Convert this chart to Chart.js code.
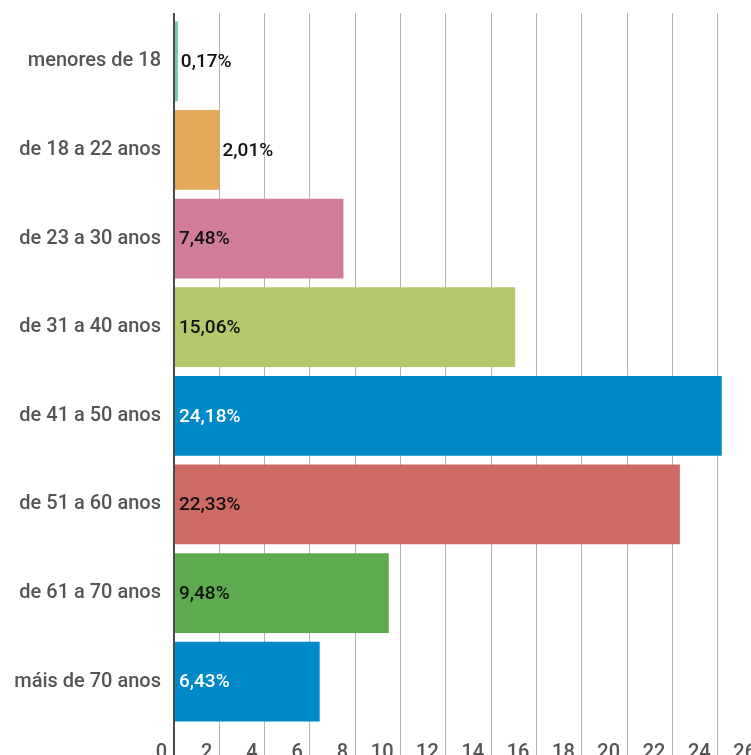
<!DOCTYPE html>
<html lang="pt-BR">
<head>
<meta charset="utf-8">
<title>Faixa etária</title>
<script src="https://cdn.jsdelivr.net/npm/chart.js@4/dist/chart.umd.min.js"></script>
<style>
    html, body { margin: 0; padding: 0; background: #fff; overflow: hidden; }
    #grafico-idade { display: block; }
</style>
</head>
<body>
<canvas id="grafico-idade" width="763" height="780" style="width:763px;height:780px"></canvas>
<script>
// Dados do gráfico
const faixas = ['menores de 18', 'de 18 a 22 anos', 'de 23 a 30 anos', 'de 31 a 40 anos',
    'de 41 a 50 anos', 'de 51 a 60 anos', 'de 61 a 70 anos', 'máis de 70 anos'];
const percentuais = [0.17, 2.01, 7.48, 15.06, 24.18, 22.33, 9.48, 6.43];
const rotulos = ['0,17%', '2,01%', '7,48%', '15,06%', '24,18%', '22,33%', '9,48%', '6,43%'];
const cores = ['#72c6b8', '#e2a95a', '#d17d99', '#b3c96b', '#0089c9', '#cd6a63', '#5dab4e', '#0089c9'];
const coresTexto = ['#111', '#111', '#111', '#111', '#fff', '#111', '#111', '#fff'];

const corGrade = ctx => (ctx.tick && ctx.tick.value === 0) ? '#4a4a4a' : '#b3b3b3';
const larguraGrade = ctx => (ctx.tick && ctx.tick.value === 0) ? 2 : 1;

// Rótulos de valor nas barras
const rotulosBarras = {
    id: 'rotulosBarras',
    afterDatasetsDraw(chart) {
        const ctx = chart.ctx;
        const meta = chart.getDatasetMeta(0);
        ctx.save();
        ctx.font = '500 19px Roboto';
        ctx.textBaseline = 'middle';
        ctx.textAlign = 'left';
        meta.data.forEach((bar, i) => {
            const txt = rotulos[i];
            const w = ctx.measureText(txt).width;
            if (w + 8 < bar.x - bar.base) {
                ctx.fillStyle = coresTexto[i];
                ctx.fillText(txt, bar.base + 4, bar.y + 1);
            } else {
                ctx.fillStyle = '#111';
                ctx.fillText(txt, bar.x + 3, bar.y + 1);
            }
        });
        ctx.restore();
    }
};

new Chart(document.getElementById('grafico-idade').getContext('2d'), {
    type: 'bar',
    data: {
        labels: faixas,
        datasets: [{
            data: percentuais,
            backgroundColor: cores,
            borderWidth: 0,
            categoryPercentage: 1,
            barPercentage: 0.9
        }]
    },
    options: {
        indexAxis: 'y',
        responsive: false,
        animation: false,
        layout: { padding: { top: 8, right: 0, left: 0, bottom: 0 } },
        plugins: { legend: { display: false }, tooltip: { enabled: false } },
        scales: {
            x: {
                position: 'bottom',
                min: 0, max: 26,
                ticks: {
                    stepSize: 2,
                    align: 'end',
                    labelOffset: -7,
                    padding: -30,
                    color: '#555',
                    font: { family: 'Roboto', size: 20, weight: '500' }
                },
                grid: { color: corGrade, lineWidth: larguraGrade, drawTicks: true, tickLength: 45 },
                border: { display: false },
                afterFit: s => { s.height = 54; }
            },
            xTopo: {
                type: 'linear',
                axis: 'x',
                position: 'top',
                min: 0, max: 26,
                ticks: { stepSize: 2, display: false },
                grid: { color: corGrade, lineWidth: larguraGrade, drawOnChartArea: false, drawTicks: true, tickLength: 4 },
                border: { display: false },
                afterFit: s => { s.height = 4; }
            },
            y: {
                ticks: {
                    color: '#555',
                    padding: 5,
                    font: { family: 'Roboto', size: 20, weight: '500' }
                },
                grid: { display: false },
                border: { display: false },
                afterFit: s => { s.width = 174; }
            }
        }
    },
    plugins: [rotulosBarras]
});
</script>
</body>
</html>
